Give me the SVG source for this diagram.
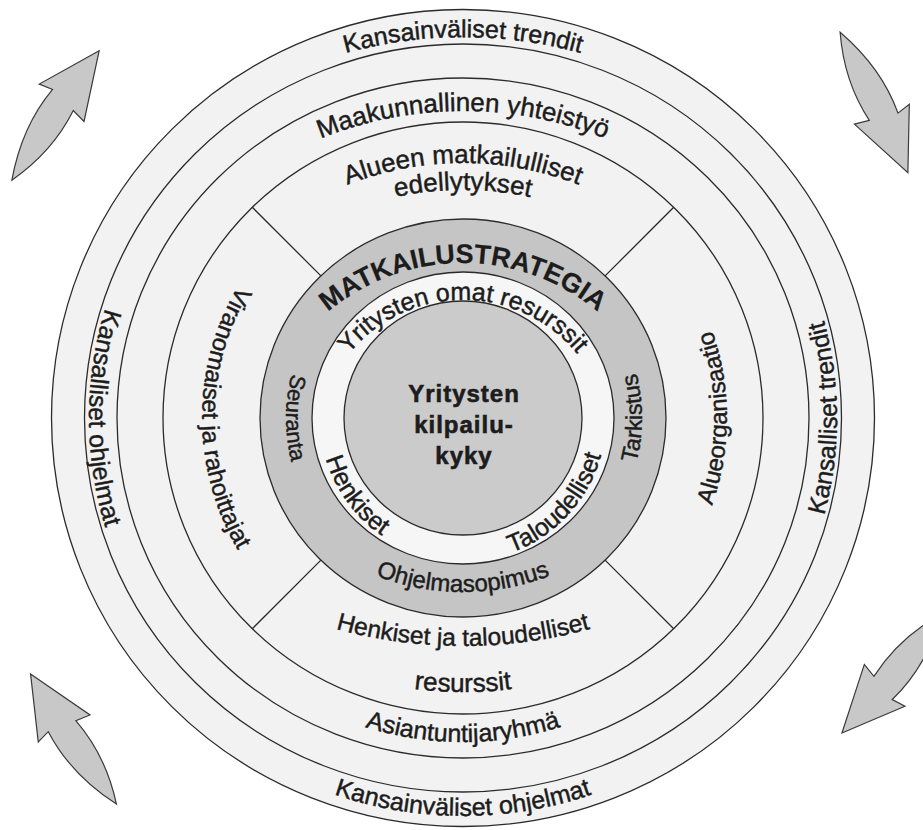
<svg xmlns="http://www.w3.org/2000/svg" width="923" height="830" viewBox="0 0 923 830">
<style>
.ring{fill:#f2f2f2;stroke:#2b2b2b;stroke-width:1.3}
.gray{fill:#c5c5c5;stroke:#2b2b2b;stroke-width:1.3}
.wring{fill:#f6f6f6;stroke:#2b2b2b;stroke-width:1.3}
.core{fill:#cbcbcb;stroke:#2b2b2b;stroke-width:1.3}
.div{stroke:#2b2b2b;stroke-width:1.3;fill:none}
.arrow{fill:#c8c8c8;stroke:#3a3a3a;stroke-width:1.2;stroke-linejoin:miter}
.t{font-family:"Liberation Sans",Arial,sans-serif;font-size:25px;fill:#1c1c1c;stroke:#1c1c1c;stroke-width:0.45;text-anchor:middle}
.b{font-weight:bold;stroke-width:0.2}
</style>
<defs>
<path id="arrowShape" d="M 78,0 L 17,-31 L 20,-17 Q -28,-22 -78,0 Q -32,18 14,12 L 11,27 Z"/>
<path id="topKt" d="M 23 477 A 440 440 0 0 1 903 477"/>
<path id="topMy" d="M 83 491 A 380 380 0 0 1 843 491"/>
<path id="topAm" d="M 146 480 A 317 317 0 0 1 780 480"/>
<path id="topEd" d="M 143 510 A 320 320 0 0 1 783 510"/>
<path id="topMs" d="M 253 473 A 210 210 0 0 1 673 473"/>
<path id="topYo" d="M 315 448 A 148 148 0 0 1 611 448"/>
<path id="bot398" d="M 65 418 A 398 398 0 0 0 861 418"/>
<path id="bot324" d="M 139 418 A 324 324 0 0 0 787 418"/>
<path id="botRe" d="M 63 292 A 400 400 0 0 0 863 292"/>
<path id="botHt" d="M -17 166 A 480 480 0 0 0 943 166"/>
<path id="botOs" d="M 223 352 A 240 240 0 0 0 703 352"/>
<path id="left374" d="M 463 44 A 374 374 0 0 0 463 792"/>
<path id="left261" d="M 463 157 A 261 261 0 0 0 463 679"/>
<path id="left177" d="M 463 241 A 177 177 0 0 0 463 595"/>
<path id="right374" d="M 463 792 A 374 374 0 0 0 463 44"/>
<path id="right264" d="M 463 682 A 264 264 0 0 0 463 154"/>
<path id="right179" d="M 463 597 A 179 179 0 0 0 463 239"/>
<path id="henk143" d="M 378.94 302.31 A 143 143 0 0 0 547.06 533.69"/>
<path id="talo143" d="M 366.20 523.26 A 143 143 0 0 0 559.80 312.74"/>
</defs>

<g id="arrows">
<use href="#arrowShape" class="arrow" transform="translate(55.5 115.5) rotate(-56)"/>
<use href="#arrowShape" class="arrow" transform="translate(874 102.5) rotate(64.25)"/>
<use href="#arrowShape" class="arrow" transform="translate(892.1 673.3) rotate(130)"/>
<use href="#arrowShape" class="arrow" transform="translate(73.5 739) rotate(-123.4)"/>
</g>

<g id="ring-kansainvaliset">
<ellipse class="ring" cx="463" cy="418" rx="411.5" ry="408.5"/>
<text class="t"><textPath href="#topKt" startOffset="50%">Kansainväliset trendit</textPath></text>
<text class="t"><textPath href="#bot398" startOffset="50%">Kansainväliset ohjelmat</textPath></text>
</g>

<g id="ring-kansalliset">
<ellipse class="ring" cx="463" cy="418" rx="378.5" ry="374"/>
<text class="t"><textPath href="#left374" startOffset="50%">Kansalliset ohjelmat</textPath></text>
<text class="t"><textPath href="#right374" startOffset="50%">Kansalliset trendit</textPath></text>
</g>

<g id="ring-maakunnallinen">
<ellipse class="ring" cx="463" cy="418" rx="346" ry="340"/>
<text class="t" style="font-size:26px"><textPath href="#topMy" startOffset="50%">Maakunnallinen yhteistyö</textPath></text>
<text class="t"><textPath href="#bot324" startOffset="50%">Asiantuntijaryhmä</textPath></text>
</g>

<g id="ring-alue">
<ellipse class="ring" cx="463" cy="418" rx="300" ry="296"/>
<text class="t" style="font-size:26px"><textPath href="#topAm" startOffset="50%">Alueen matkailulliset</textPath></text>
<text class="t" style="font-size:26px"><textPath href="#topEd" startOffset="50%">edellytykset</textPath></text>
<text class="t" style="font-size:24px"><textPath href="#left261" startOffset="50%">Viranomaiset ja rahoittajat</textPath></text>
<text class="t" style="font-size:24px"><textPath href="#right264" startOffset="50%">Alueorganisaatio</textPath></text>
<text class="t" style="font-size:24.5px"><textPath href="#botHt" startOffset="50%">Henkiset ja taloudelliset</textPath></text>
<text class="t" style="font-size:26px"><textPath href="#botRe" startOffset="50%">resurssit</textPath></text>
</g>

<g id="connectors">
<line class="div" x1="252.3" y1="207.3" x2="320.9" y2="275.9"/>
<line class="div" x1="673.7" y1="207.3" x2="605.1" y2="275.9"/>
<line class="div" x1="252.3" y1="628.7" x2="320.9" y2="560.1"/>
<line class="div" x1="673.7" y1="628.7" x2="605.1" y2="560.1"/>
</g>

<g id="ring-strategia">
<ellipse class="gray" cx="463" cy="418" rx="203" ry="199"/>
<text class="t b" style="font-size:27px"><textPath href="#topMs" startOffset="50%">MATKAILUSTRATEGIA</textPath></text>
<text class="t" style="font-size:24px"><textPath href="#botOs" startOffset="50%">Ohjelmasopimus</textPath></text>
<text class="t" style="font-size:22px"><textPath href="#left177" startOffset="50%">Seuranta</textPath></text>
<text class="t" style="font-size:23px"><textPath href="#right179" startOffset="50%">Tarkistus</textPath></text>
</g>

<g id="ring-resurssit">
<ellipse class="wring" cx="463" cy="418" rx="151" ry="146"/>
<text class="t"><textPath href="#topYo" startOffset="50%">Yritysten omat resurssit</textPath></text>
<text class="t"><textPath href="#henk143" startOffset="50%">Henkiset</textPath></text>
<text class="t"><textPath href="#talo143" startOffset="50%">Taloudelliset</textPath></text>
</g>

<g id="core">
<ellipse class="core" cx="463" cy="418" rx="119" ry="117"/>
<text class="t b" style="font-size:24px;letter-spacing:1px;stroke-width:0.6" x="464" y="402">Yritysten</text>
<text class="t b" style="font-size:24px;letter-spacing:1px;stroke-width:0.6" x="464" y="433">kilpailu-</text>
<text class="t b" style="font-size:24px;letter-spacing:1px;stroke-width:0.6" x="464" y="464">kyky</text>
</g>
</svg>
